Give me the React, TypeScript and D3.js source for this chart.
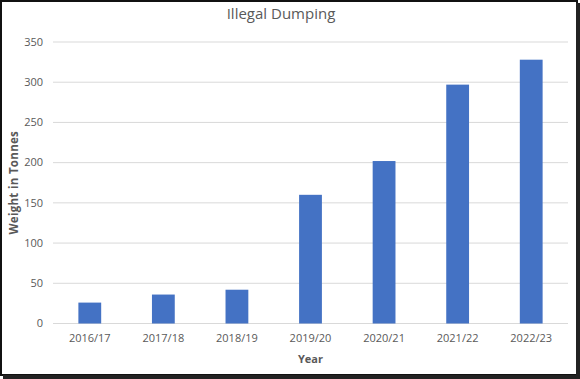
import React from "react";
import * as d3 from "d3";

const categories = ["2016/17", "2017/18", "2018/19", "2019/20", "2020/21", "2021/22", "2022/23"];
const values = [26, 36, 42, 160, 202, 297, 328];
const yTicks = [0, 50, 100, 150, 200, 250, 300, 350];
const title = "Illegal Dumping";
const xTitle = "Year";
const yTitle = "Weight in Tonnes";

const W = 580;
const H = 379;
const margin = { left: 53, right: 12, top: 42, bottom: 55.5 };
const font = "'Open Sans', 'Noto Sans', sans-serif";
const textColor = "#595959";

export default function App() {
  const x = d3
    .scaleBand<string>()
    .domain(categories)
    .range([margin.left, W - margin.right])
    .paddingInner(0.69)
    .paddingOuter(0.345);
  const y = d3.scaleLinear().domain([0, 350]).range([H - margin.bottom, margin.top]);
  const plotCx = (margin.left + W - margin.right) / 2;
  const plotCy = (y(0) + y(350)) / 2;

  return (
    <svg width={W} height={H} style={{ position: "absolute", left: 0, top: 0 }}>
      <rect x={0} y={0} width={W} height={H} fill="#fff" />
      {yTicks.map((t) => (
        <g key={t}>
          <line x1={margin.left} x2={W - margin.right} y1={y(t)} y2={y(t)} stroke="#D9D9D9" strokeWidth={1} />
          <text x={43} y={y(t)} dy="0.35em" textAnchor="end" fontFamily={font} fontSize={11} fill={textColor}>
            {t}
          </text>
        </g>
      ))}
      {categories.map((c, i) => (
        <g key={c}>
          <rect x={x(c)} y={y(values[i])} width={x.bandwidth()} height={y(0) - y(values[i])} fill="#4472C4" />
          <text
            x={(x(c) as number) + x.bandwidth() / 2}
            y={338}
            dy="0.35em"
            textAnchor="middle"
            fontFamily={font}
            fontSize={11}
            fill={textColor}
          >
            {c}
          </text>
        </g>
      ))}
      <text x={281} y={14} dy="0.35em" textAnchor="middle" fontFamily={font} fontSize={15} fill={textColor}>
        {title}
      </text>
      <text x={plotCx} y={359} dy="0.35em" textAnchor="middle" fontFamily={font} fontSize={11} fontWeight="bold" fill={textColor}>
        {xTitle}
      </text>
      <text
        transform={`translate(14,${plotCy}) rotate(-90)`}
        dy="0.35em"
        textAnchor="middle"
        fontFamily={font}
        fontSize={11.5}
        fontWeight="bold"
        letterSpacing={0.3}
        fill={textColor}
      >
        {yTitle}
      </text>
      <rect x={1} y={1} width={576} height={374} fill="none" stroke="#111" strokeWidth={2} />
      <rect x={576} y={3} width={4} height={376} fill="#222" />
      <rect x={3} y={375} width={577} height={4} fill="#222" />
    </svg>
  );
}
